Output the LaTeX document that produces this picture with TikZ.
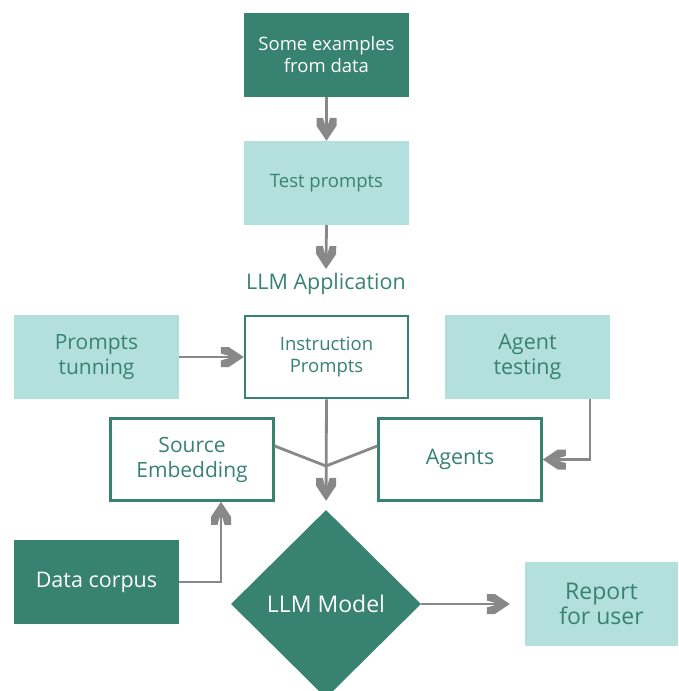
\documentclass[tikz,border=0pt]{standalone}
\usepackage{fontspec}
\setmainfont{Open Sans}
\usetikzlibrary{arrows.meta,shapes.geometric}
\definecolor{deepgreen}{RGB}{55,130,112}
\definecolor{palegreen}{RGB}{179,224,220}
\definecolor{linegray}{RGB}{136,136,136}

% heavy chevron tip with flat-cut arms
\pgfdeclarearrow{
  name=Chevron,
  setup code={
    \pgfarrowssettipend{0pt}
    \pgfarrowssetlineend{-12pt}
    \pgfarrowssetvisualbackend{-23pt}
    \pgfarrowssetbackend{-23pt}
    \pgfarrowshullpoint{0pt}{0pt}
    \pgfarrowshullpoint{-23pt}{10pt}
    \pgfarrowshullpoint{-23pt}{-10pt}
  },
  drawing code={
    \pgfpathmoveto{\pgfpoint{0pt}{0pt}}
    \pgfpathlineto{\pgfpoint{-15pt}{10pt}}
    \pgfpathlineto{\pgfpoint{-23pt}{10pt}}
    \pgfpathlineto{\pgfpoint{-23pt}{3.5pt}}
    \pgfpathlineto{\pgfpoint{-11pt}{0pt}}
    \pgfpathlineto{\pgfpoint{-23pt}{-3.5pt}}
    \pgfpathlineto{\pgfpoint{-23pt}{-10pt}}
    \pgfpathlineto{\pgfpoint{-15pt}{-10pt}}
    \pgfpathclose
    \pgfusepathqfill
  }
}

\tikzset{
  card/.style={rectangle, inner sep=0pt, minimum width=165pt, minimum height=84pt, align=center},
  darkcard/.style={card, fill=deepgreen, text=white},
  lightcard/.style={card, fill=palegreen, text=deepgreen},
  framecard/.style={card, draw=deepgreen, line width=2.5pt, fill=white, text=deepgreen,
    minimum width=163pt, minimum height=82pt},
  link/.style={draw=linegray, line width=2.8pt},
  arrow/.style={link, -Chevron},
}
\begin{document}
\begin{tikzpicture}[x=1pt, y=-1pt]
  \useasboundingbox (0,0) rectangle (678,691);
  \clip (0,0) rectangle (678,691);

  % top column
  \node[darkcard, font=\fontsize{18.5}{22}\selectfont] (ex) at (326.5,55) {Some examples\\from data};
  \node[lightcard, font=\fontsize{18.5}{22}\selectfont] (tp) at (326.5,183) {Test prompts};
  \node[text=deepgreen, font=\fontsize{21.5}{24}\selectfont] (app) at (326,284) {LLM Application};

  % application row
  \node[lightcard, font=\fontsize{21}{25}\selectfont] (pt) at (96.5,357) {Prompts\\tunning};
  \node[framecard, font=\fontsize{18.5}{22}\selectfont] (ip) at (326.5,357) {Instruction\\Prompts};
  \node[lightcard, font=\fontsize{21.5}{25}\selectfont] (at) at (527.5,357) {Agent\\testing};

  \node[framecard, font=\fontsize{21}{25}\selectfont] (se) at (192,459.5) {Source\\Embedding};
  \node[framecard, font=\fontsize{21.5}{25}\selectfont] (ag) at (460,459.5) {Agents};

  % bottom row
  \node[darkcard, font=\fontsize{21.5}{25}\selectfont] (dc) at (96.5,582) {Data corpus};
  \node[diamond, fill=deepgreen, text=white, inner sep=0pt, minimum width=190pt, minimum height=188pt,
        font=\fontsize{23}{25}\selectfont] (llm) at (326,604) {LLM Model};
  \node[lightcard, minimum width=153pt, font=\fontsize{23}{25}\selectfont] (rp) at (601.5,604) {Report\\for user};

  % connectors
  \coordinate (join) at (326,466);
  \draw[arrow] (ex.south) -- (tp.north);
  \draw[arrow] (tp.south) -- (326,269);
  \draw[arrow] (pt.east) -- (ip.west);
  \draw[link] ([yshift=13.5pt]se.east) -- (join) -- ([yshift=13.5pt]ag.west);
  \draw[arrow, shorten >=9pt] (ip.south) -- (llm.north);
  \draw[arrow] ([xshift=62.5pt]at.south) |- (ag.east);
  \draw[arrow] (dc.east) -| ([xshift=29pt]se.south);
  \draw[arrow, shorten >=15pt] (llm.east) -- (rp.west);
\end{tikzpicture}
\end{document}
